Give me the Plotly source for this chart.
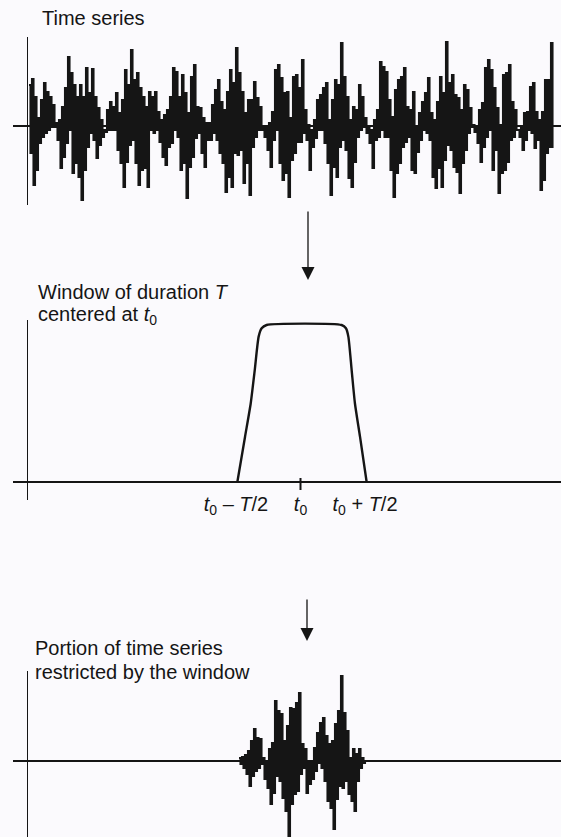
import numpy as np
import plotly.graph_objects as go

W, H = 561, 837

# ---------------- data ----------------
# Dense time series: alternate samples (peaks / troughs), amplitude in arbitrary units
series_peaks = [
    41, 47, 29, 8, 26, 43, 34, 29, 21, 3, 6, 19, 38, 69, 53, 41, 29, 41, 29, 58,
    33, 57, 29, 18, 6, -4, 16, 24, 19, 33, 13, 26, 56, 41, 76, 46, 53, 38, 29, 19,
    34, 29,
    34, 14, 6, 11, 16, 29, 58, 54, 29, 51, 33, 13, 49, 61, 19, 18, 8, 3, 3, 21,
    36, 46, 24, 16, 34, 56, 43, 78, 53, 34, 13, 26, 26, 44, 28, 19, -1, -1, 3, 14,
    56, 61, 48,
    33, 34, 8, 49, 51, 38, 66, 16, 1, -4, 6, 26, 31, 38, 43, 6, 26, 46, 41, 83,
    49, 29, 6, 19, 16, 41, 29, 8, -1, -4, 6, 16, 64, 59, 54, 26, 9, 36, 46, 49,
    58, 19, 16, 34,
    -1, 13, 24, 33, 48, 13, 6, 24, 49, 33, 84, 43, 51, 31, 28, 16, 41, 36, 18, 1,
    -2, 16, 23, 58, 66, 56, 38, 18, 1, 51, 53, 61, 24, 16, -4, -1, 13, 14, 39, 43,
    14, 6, 14, 46, 46, 83,
]
series_troughs = [
    -27, -59, -44, -17, -11, -7, -4, -1, -1, -14, -42, -31, -17, -4, -47, -37, -51, -74, -44, -21,
    -7, -14, -32, -19, -11, -6, -4, -4, -4, -24, -37, -61, -36, -19, -14, -37, -59, -44, -42, -61,
    -4, -7,
    -4, -16, -31, -39, -21, -17, -4, -11, -44, -37, -72, -41, -31, -12, -7, -27, -41, -14, -14, -7,
    -14, -27, -37, -66, -51, -61, -27, -29, -24, -57, -37, -69, -21, -11, -4, -4, -11, -24, -41, -14,
    -4, -37, -54,
    -47, -71, -34, -27, -16, -16, -7, -14, -44, -21, -12, -4, -4, -17, -37, -69, -41, -51, -21, -14,
    -24, -52, -61, -36, -11, -4, -1, -7, -17, -42, -14, -11, -4, -11, -11, -44, -71, -47, -37, -21,
    -16, -11, -44, -47,
    -26, -14, -4, -7, -14, -51, -62, -42, -61, -34, -19, -24, -41, -46, -67, -37, -24, -7, -1, -6,
    -17, -36, -21, -11, -4, -44, -24, -67, -47, -44, -36, -14, -11, -4, -11, -24, -14, -4, -7, -22,
    -14, -64, -54, -27, -21, -22,
]

# Portion restricted by the window
windowed_peaks = [3, 4, 6, 10, 20, 32, 23, 22, 3, 0, 12, 18, 60, 50, 47, 20, 35, 53, 52, 58,
                  68, 17, 12, 0, -2, 13, 28, 38, 43, 25, 17, 20, 37, 50, 85, 48, 30, 3, 12, 7,
                  12, 3, 0]
windowed_troughs = [-3, -7, -13, -25, -15, -10, -7, -3, -18, -27, -43, -32, -15, -20, -37, -50, -75, -43, -33, -30,
                    -13, -7, -32, -23, -18, -10, -2, -7, -20, -40, -47, -68, -38, -25, -27, -20, -33, -40, -50, -20,
                    -7, -2, 0]
windowed_first_sample = 140

# Window shape (time index, weight)
window_time = [138.9, 144.0, 147.8, 150.5, 153.1, 155.1, 158.4, 208.4, 211.3, 212.9, 215.1, 217.3, 220.7, 225.1]
window_weight = [0, 0.287, 0.5, 0.713, 0.926, 0.979, 1, 1, 0.979, 0.926, 0.713, 0.5, 0.287, 0]
t0 = 181
half_T = 43
tick_text = ["<i>t</i><sub>0</sub> – <i>T</i>/2", "<i>t</i><sub>0</sub>", "<i>t</i><sub>0</sub> + <i>T</i>/2"]

# ---------------- build ----------------
def interleave(a, b):
    out = np.empty(len(a) + len(b))
    out[0::2] = a
    out[1::2] = b
    return out

series = interleave(series_peaks, series_troughs)
t_series = np.arange(len(series))
windowed = interleave(windowed_peaks, windowed_troughs)
t_windowed = windowed_first_sample + np.arange(len(windowed))

INK = "#151515"
BG = "#fbfafd"
FONT = "Liberation Sans, Arial, Helvetica, sans-serif"

def py(v):
    return 1 - v / H

X_RANGE = [(13 - 29) / 1.5, (561 - 29) / 1.5]
X_DOMAIN = [13 / W, 1]
YAX_X = 27 / W

fig = go.Figure()
fig.add_trace(go.Scatter(x=t_series, y=series, xaxis="x", yaxis="y", mode="lines",
                         line=dict(color=INK, width=2.1, shape="hv"), hoverinfo="skip"))
fig.add_trace(go.Scatter(x=window_time, y=window_weight, xaxis="x2", yaxis="y2", mode="lines",
                         line=dict(color=INK, width=2.4, shape="spline", smoothing=0.6),
                         hoverinfo="skip"))
fig.add_trace(go.Scatter(x=t_windowed, y=windowed, xaxis="x3", yaxis="y3", mode="lines",
                         line=dict(color=INK, width=2.1, shape="hv"), hoverinfo="skip"))

common_x = dict(domain=X_DOMAIN, range=X_RANGE, anchor="free", showline=True, linecolor=INK,
                linewidth=1.6, showgrid=False, zeroline=False, ticks="", fixedrange=True)
common_y = dict(anchor="free", position=YAX_X, showline=True, linecolor=INK, linewidth=1.4,
                showgrid=False, zeroline=False, ticks="", showticklabels=False, fixedrange=True)

fig.update_layout(
    width=W, height=H, autosize=False,
    margin=dict(l=0, r=0, t=0, b=0),
    paper_bgcolor=BG, plot_bgcolor=BG,
    showlegend=False,
    font=dict(family=FONT, color=INK, size=20),
    xaxis=dict(common_x, position=py(126), showticklabels=False),
    yaxis=dict(common_y, domain=[py(205), py(37)], range=[126 - 205, 126 - 37]),
    xaxis2=dict(common_x, position=py(482), showticklabels=True, tickvals=[t0 - half_T, t0, t0 + half_T],
                ticktext=tick_text, ticklabelstandoff=4,
                tickfont=dict(size=20, family=FONT, color=INK)),
    yaxis2=dict(common_y, domain=[py(500), py(320)], range=[(482 - 500) / 157, (482 - 320) / 157]),
    xaxis3=dict(common_x, position=py(761), showticklabels=False),
    yaxis3=dict(common_y, domain=[0, py(671)], range=[761 - 837, 761 - 671]),
)

# tick mark at t0
fig.add_shape(type="line", xref="x2", yref="y2", x0=t0, x1=t0, y0=-8 / 157, y1=4 / 157,
              line=dict(color=INK, width=2))

def label(text, x, y):
    fig.add_annotation(text=text, x=x / W, y=py(y), xref="paper", yref="paper",
                       xanchor="left", yanchor="middle", showarrow=False,
                       font=dict(size=20, family=FONT, color=INK))

label("Time series", 40, 18)
label("Window of duration <i>T</i>", 36, 292)
label("centered at <i>t</i><sub>0</sub>", 36, 316)
label("Portion of time series", 33, 648)
label("restricted by the window", 33, 672)

def arrow(x, y_tail, y_tip):
    fig.add_annotation(x=x / W, y=py(y_tip), xref="paper", yref="paper", text="",
                       showarrow=True, ax=0, ay=-(y_tip - y_tail), axref="pixel", ayref="pixel",
                       arrowhead=2, arrowsize=2.0, arrowwidth=1.3, arrowcolor=INK)

arrow(308, 210, 280)
arrow(307, 598, 641)

fig.write_html("out.html")
